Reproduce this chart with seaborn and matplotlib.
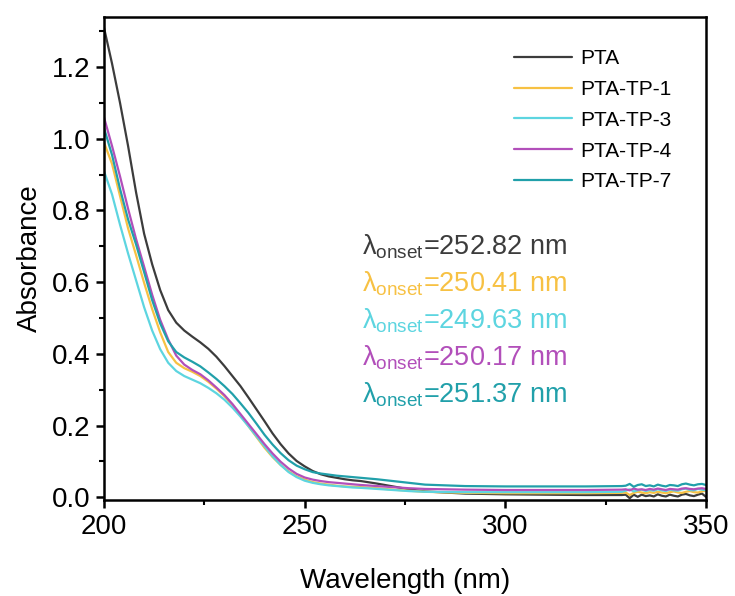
import numpy as np
import pandas as pd
import matplotlib
matplotlib.use('Agg')
import matplotlib.pyplot as plt
import seaborn as sns

# wavelength grid (nm)
wl = ([200 + 2 * i for i in range(33)] + [268, 272, 276, 280, 290, 300, 310, 320, 329]
      + list(range(330, 351)))

pta = [1.31, 1.21, 1.10, 0.98, 0.85, 0.735, 0.65, 0.578, 0.522, 0.487, 0.465, 0.448, 0.432,
       0.414, 0.392, 0.366, 0.338, 0.31, 0.278, 0.245, 0.212, 0.178, 0.148, 0.122, 0.101,
       0.086, 0.073, 0.064, 0.058, 0.054, 0.050, 0.047, 0.045,
       0.038, 0.030, 0.022, 0.016, 0.010, 0.008, 0.007, 0.006, 0.006,
       0.007, -0.003, 0.007, 0.001, 0.007, 0.003, 0.005, 0.002, 0.008, 0.004, 0.002,
       0.007, 0.004, 0.002, 0.007, 0.009, 0.005, 0.003, 0.007, 0.010, 0.001]
tp1 = [0.99, 0.93, 0.84, 0.75, 0.675, 0.598, 0.525, 0.46, 0.405, 0.375, 0.36, 0.35, 0.338,
       0.322, 0.303, 0.282, 0.258, 0.228, 0.198, 0.168, 0.138, 0.112, 0.09, 0.072, 0.058,
       0.049, 0.042, 0.038, 0.035, 0.032, 0.030, 0.029, 0.028,
       0.025, 0.021, 0.018, 0.015, 0.012, 0.011, 0.011, 0.011, 0.012,
       0.013, 0.006, 0.012, 0.015, 0.013, 0.011, 0.014, 0.012, 0.015, 0.013, 0.011,
       0.014, 0.016, 0.013, 0.012, 0.015, 0.017, 0.014, 0.013, 0.016, 0.018]
tp3 = [0.91, 0.845, 0.76, 0.68, 0.605, 0.53, 0.465, 0.413, 0.375, 0.352, 0.338, 0.328, 0.318,
       0.305, 0.29, 0.272, 0.25, 0.225, 0.198, 0.17, 0.142, 0.114, 0.09, 0.07, 0.056,
       0.046, 0.040, 0.036, 0.033, 0.031, 0.029, 0.027, 0.026,
       0.023, 0.020, 0.017, 0.015, 0.014, 0.014, 0.014, 0.014, 0.015,
       0.018, 0.022, 0.016, 0.019, 0.021, 0.017, 0.020, 0.018, 0.022, 0.019, 0.017,
       0.021, 0.019, 0.018, 0.022, 0.024, 0.020, 0.019, 0.023, 0.021, 0.019]
tp4 = [1.06, 0.98, 0.895, 0.805, 0.72, 0.643, 0.565, 0.495, 0.44, 0.395, 0.37, 0.355, 0.343,
       0.326, 0.306, 0.285, 0.26, 0.232, 0.204, 0.176, 0.148, 0.122, 0.099, 0.08, 0.065,
       0.055, 0.049, 0.045, 0.042, 0.040, 0.038, 0.036, 0.034,
       0.031, 0.028, 0.025, 0.023, 0.021, 0.020, 0.020, 0.020, 0.021,
       0.022, 0.019, 0.024, 0.021, 0.022, 0.020, 0.023, 0.021, 0.024, 0.022, 0.020,
       0.023, 0.022, 0.021, 0.024, 0.025, 0.023, 0.022, 0.024, 0.025, 0.023]
tp7 = [1.03, 0.955, 0.86, 0.775, 0.705, 0.628, 0.55, 0.485, 0.435, 0.405, 0.39, 0.378, 0.365,
       0.348, 0.33, 0.31, 0.288, 0.262, 0.235, 0.205, 0.174, 0.147, 0.123, 0.103, 0.088,
       0.078, 0.070, 0.066, 0.063, 0.060, 0.058, 0.056, 0.054,
       0.050, 0.045, 0.040, 0.035, 0.031, 0.030, 0.030, 0.030, 0.031,
       0.032, 0.037, 0.029, 0.034, 0.036, 0.031, 0.033, 0.030, 0.035, 0.032, 0.030,
       0.034, 0.033, 0.031, 0.036, 0.038, 0.035, 0.033, 0.036, 0.037, 0.034]

samples = ['PTA', 'PTA-TP-1', 'PTA-TP-3', 'PTA-TP-4', 'PTA-TP-7']
onsets = ['252.82', '250.41', '249.63', '250.17', '251.37']
colors = ['#3c3c3c', '#F7C143', '#5DD5E0', '#B24FBA', '#21A0AA']

df = pd.concat([pd.DataFrame({'wl': wl, 'abs': v, 'sample': s})
                for s, v in zip(samples, [pta, tp1, tp3, tp4, tp7])])

sns.set_style('ticks')
plt.rcParams['font.family'] = ['Liberation Sans', 'DejaVu Sans']
plt.rcParams['mathtext.default'] = 'regular'
plt.rcParams['text.color'] = 'black'
plt.rcParams['axes.labelcolor'] = 'black'
plt.rcParams['xtick.color'] = 'black'
plt.rcParams['ytick.color'] = 'black'
plt.rcParams['axes.edgecolor'] = 'black'

fig = plt.figure(figsize=(7.35, 5.96), dpi=100)
ax = fig.add_axes([0.1415, 0.161, 0.819, 0.8105])
sns.lineplot(data=df, x='wl', y='abs', hue='sample', hue_order=samples,
             palette=colors, linewidth=1.6, ax=ax, sort=False)

ax.set_xlim(200, 350)
ax.set_ylim(-0.008, 1.34)
ax.set_xticks([200, 250, 300, 350])
ax.set_xticks([225, 275, 325], minor=True)
ax.set_yticks(np.arange(0, 1.21, 0.2))
ax.set_yticks(np.arange(0.1, 1.31, 0.2), minor=True)
ax.yaxis.set_major_formatter(matplotlib.ticker.FormatStrFormatter('%.1f'))
ax.tick_params(which='major', length=6, width=1.8, labelsize=20, direction='out', pad=4)
ax.tick_params(which='minor', length=3.5, width=1.5, direction='out')
for sp in ax.spines.values():
    sp.set_linewidth(1.8)
ax.set_xlabel('Wavelength (nm)', fontsize=20, labelpad=20)
ax.set_ylabel('Absorbance', fontsize=20, labelpad=6)

ax.legend(frameon=False, fontsize=15, loc='upper left', bbox_to_anchor=(0.668, 0.951),
          borderaxespad=0, handlelength=2.75, labelspacing=0.57, handletextpad=0.4)

for i, (o, c) in enumerate(zip(onsets, colors)):
    ax.text(0.428, 0.525 - i * 0.0765, 'λ$_{onset}$=' + o + ' nm', color=c,
            fontsize=19.5, transform=ax.transAxes, va='center')

fig.savefig('out.png', dpi=100)
